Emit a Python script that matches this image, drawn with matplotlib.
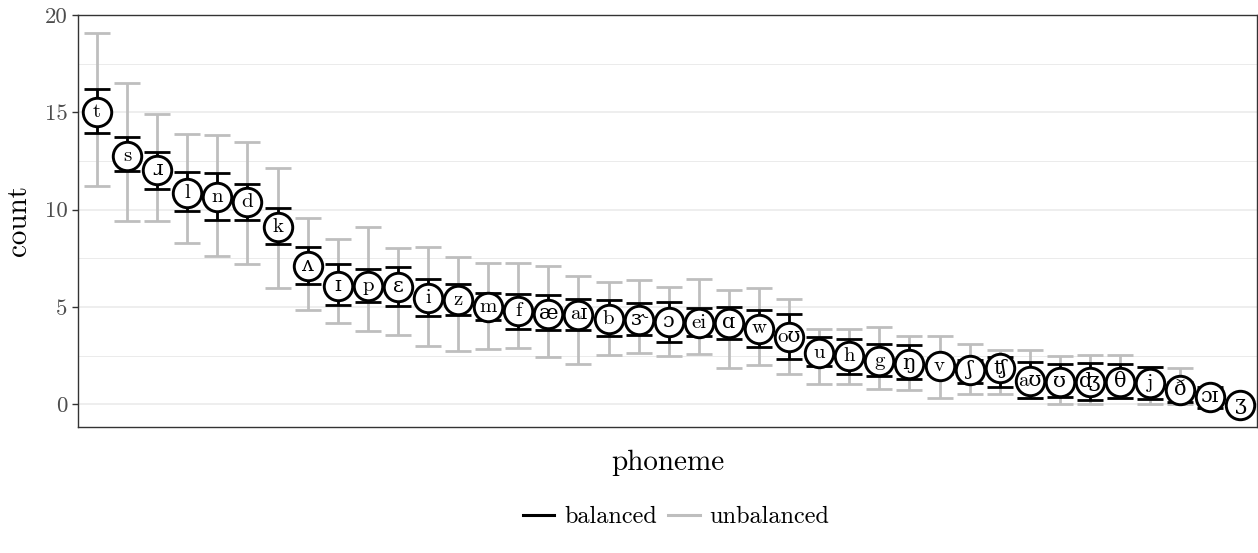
import matplotlib
matplotlib.use("Agg")
import matplotlib.pyplot as plt
from matplotlib.lines import Line2D
import numpy as np

plt.rcParams['font.family'] = ['cmr10', 'DejaVu Serif']
plt.rcParams['axes.formatter.use_mathtext'] = True
plt.rcParams['mathtext.fontset'] = 'cm'

# phonemes, ordered by mean count
phonemes = ['t', 's', 'ɹ', 'l', 'n', 'd', 'k', 'ʌ', 'ɪ', 'p', 'ɛ', 'i', 'z', 'm',
            'f', 'æ', 'aɪ', 'b', 'ɝ', 'ɔ', 'ei', 'ɑ', 'w', 'oʊ', 'u', 'h', 'g',
            'ŋ', 'v', 'ʃ', 'ʧ', 'aʊ', 'ʊ', 'ʤ', 'θ', 'j', 'ð', 'ɔɪ', 'ʒ']
mean_count = [15.03, 12.77, 12.01, 10.87, 10.66, 10.39, 9.12, 7.11, 6.07, 6.07,
              6.00, 5.47, 5.35, 5.00, 4.78, 4.66, 4.61, 4.40, 4.32, 4.20, 4.15,
              4.15, 3.89, 3.46, 2.61, 2.47, 2.23, 2.06, 1.95, 1.78, 1.84, 1.20,
              1.15, 1.15, 1.15, 1.10, 0.72, 0.38, -0.02]
# balanced error bar limits
bal_lo = [13.95, 11.98, 11.07, 9.94, 9.46, 9.46, 8.21, 6.20, 5.09, 5.23, 5.06,
          4.52, 4.56, 4.35, 3.89, 3.82, 3.82, 3.50, 3.56, 3.20, 3.51, 3.37, 2.93,
          2.33, 1.97, 1.54, 1.46, 1.29, 1.55, 1.10, 0.86, 0.34, 0.38, 0.24, 0.34,
          0.27, 0.10, -0.21, -0.20]
bal_hi = [16.18, 13.71, 12.96, 11.91, 11.88, 11.31, 10.06, 8.06, 7.18, 6.94, 7.03,
          6.41, 6.20, 5.72, 5.67, 5.62, 5.43, 5.36, 5.21, 5.26, 4.92, 5.00, 4.85,
          4.63, 3.43, 3.33, 3.12, 3.03, 2.35, 2.26, 2.43, 2.18, 2.09, 2.12, 2.09,
          1.90, 1.15, 0.90, 0.20]
# unbalanced error bar limits
unb_lo = [11.22, 9.44, 9.44, 8.26, 7.64, 7.20, 5.96, 4.82, 4.15, 3.77, 3.56,
          3.00, 2.74, 2.83, 2.90, 2.45, 2.06, 2.55, 2.62, 2.48, 2.59, 1.88, 2.00,
          1.53, 1.03, 1.03, 0.77, 0.75, 0.34, 0.55, 0.55, 0.30, 0.00, 0.03, 0.30,
          0.00, 0.00, 0.00, -0.20]
unb_hi = [19.07, 16.50, 14.89, 13.86, 13.81, 13.45, 12.13, 9.58, 8.48, 9.12, 8.02,
          8.06, 7.54, 7.27, 7.27, 7.08, 6.60, 6.27, 6.38, 6.03, 6.41, 5.86, 5.95,
          5.41, 3.86, 3.86, 3.98, 3.50, 3.50, 3.07, 2.81, 2.78, 2.47, 2.52, 2.52,
          1.90, 1.87, 0.80, 0.20]

y_ticks = [0, 5, 10, 15, 20]
legend_labels = ['balanced', 'unbalanced']

x = np.arange(len(phonemes))
mean_count = np.array(mean_count)

fig = plt.figure(figsize=(12.58, 5.53), dpi=100)
ax = fig.add_axes([78/1258, 1-427/553, (1257-78)/1258, (427-15)/553])

grey = '#BEBEBE'
ax.errorbar(x, mean_count,
            yerr=[mean_count - np.array(unb_lo), np.array(unb_hi) - mean_count],
            fmt='none', ecolor=grey, elinewidth=2.0, capsize=9.6, capthick=2.0,
            zorder=1)
ax.errorbar(x, mean_count,
            yerr=[mean_count - np.array(bal_lo), np.array(bal_hi) - mean_count],
            fmt='none', ecolor='black', elinewidth=2.0, capsize=9.6, capthick=2.0,
            zorder=2)
ax.scatter(x, mean_count, s=20.5**2, facecolor='white', edgecolor='black',
           linewidth=2.1, zorder=3)
for xi, yi, ph in zip(x, mean_count, phonemes):
    ax.text(xi, yi, ph, ha='center', va='center', fontsize=15, zorder=4)

ax.set_xlim(-0.63, 38.55)
ax.set_ylim(-1.17, 20.0)
ax.set_xticks([])
ax.set_yticks(y_ticks)
ax.set_yticklabels([str(t) for t in y_ticks])
ax.set_yticks([2.5, 7.5, 12.5, 17.5], minor=True)
ax.tick_params(axis='y', which='major', labelsize=16.5, labelcolor='#4D4D4D',
               color='#333333', length=4, width=1)
ax.tick_params(axis='y', which='minor', length=0)
ax.grid(axis='y', which='major', color='#EBEBEB', linewidth=1.2, zorder=0)
ax.grid(axis='y', which='minor', color='#EBEBEB', linewidth=0.7, zorder=0)
ax.set_axisbelow(True)
for sp in ax.spines.values():
    sp.set_color('#333333')
    sp.set_linewidth(1)

ax.set_ylabel('count', fontsize=21, labelpad=9)
ax.set_xlabel('phoneme', fontsize=21, labelpad=16)

handles = [Line2D([], [], color='black', lw=2.2),
           Line2D([], [], color=grey, lw=2.2)]
fig.legend(handles, legend_labels, loc='center', ncol=2, frameon=False,
           bbox_to_anchor=(676/1258, 1-517/553), fontsize=17.5,
           handlelength=1.3, handletextpad=0.4, columnspacing=0.45)

plt.savefig('out.png', dpi=100)
